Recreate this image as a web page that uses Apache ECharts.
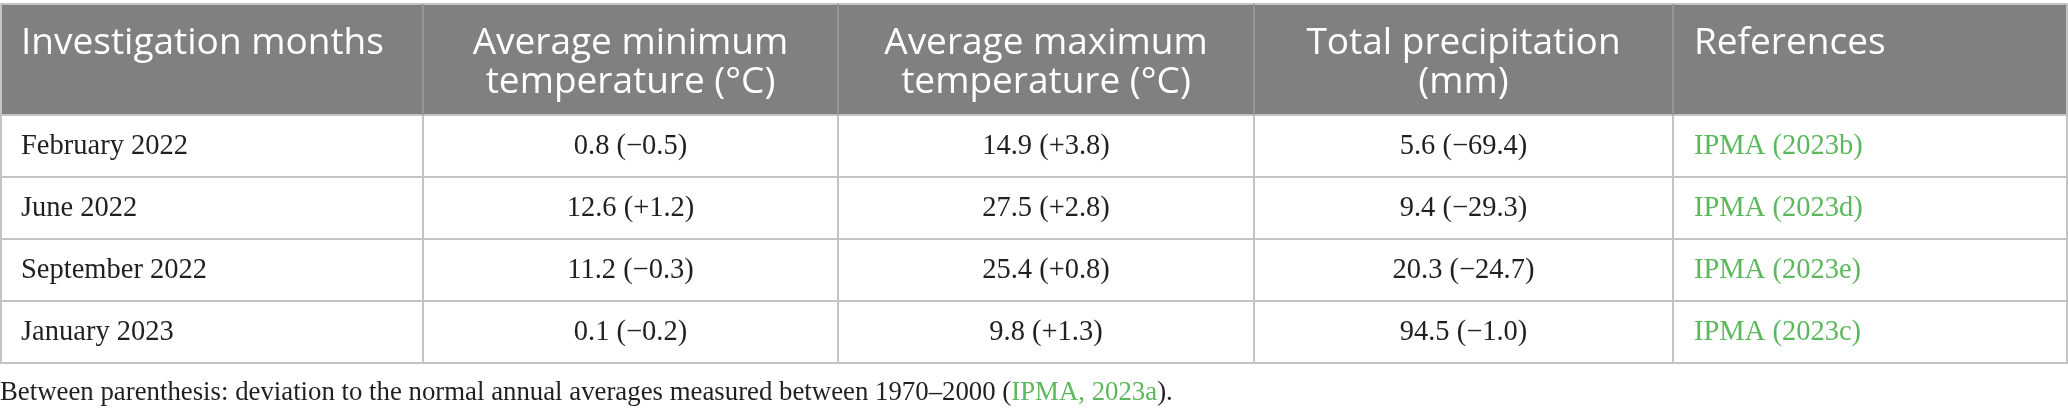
<!DOCTYPE html>
<html><head><meta charset="utf-8">
<script src="https://cdn.jsdelivr.net/npm/echarts@6/dist/echarts.min.js"></script>
<style>html,body{margin:0;padding:0;background:#fff}#c{width:2068px;height:415px}</style>
</head><body><div id="c"></div>
<script>
// ---- data ----
const headers = ['Investigation months', 'Average minimum\ntemperature (\u00B0C)', 'Average maximum\ntemperature (\u00B0C)', 'Total precipitation\n(mm)', 'References'];
const months = ['February 2022', 'June 2022', 'September 2022', 'January 2023'];
const minTemp = [0.8, 12.6, 11.2, 0.1];
const minDev = [-0.5, 1.2, -0.3, -0.2];
const maxTemp = [14.9, 27.5, 25.4, 9.8];
const maxDev = [3.8, 2.8, 0.8, 1.3];
const precip = [5.6, 9.4, 20.3, 94.5];
const precipDev = [-69.4, -29.3, -24.7, -1.0];
const references = ['IPMA (2023b)', 'IPMA (2023d)', 'IPMA (2023e)', 'IPMA (2023c)'];
const footText = 'Between parenthesis: deviation to the normal annual averages measured between 1970\u20132000 (';
const footRef = 'IPMA, 2023a';
const footEnd = ').';

// ---- layout (table units) ----
const colEdges = [0, 423, 838, 1254, 1673, 2067];
const rowEdges = [4, 115, 177, 239, 301, 363];
const colAlign = ['left', 'center', 'center', 'center', 'left'];

function fmt(v, d) { return v.toFixed(1) + ' (' + (d < 0 ? '\u2212' : '+') + Math.abs(d).toFixed(1) + ')'; }
const bodyRows = months.map((m, i) => [m, fmt(minTemp[i], minDev[i]), fmt(maxTemp[i], maxDev[i]), fmt(precip[i], precipDev[i]), references[i]]);

const cells = [];
for (let r = 0; r <= months.length; r++) for (let c = 0; c < headers.length; c++) cells.push([c, r]);
const rules = [];
rowEdges.forEach((_, i) => rules.push([0, i]));
colEdges.forEach((_, i) => rules.push([1, i]));

const HEAD_FONT = '37px "Open Sans"';
const BODY_FONT = '28.5px "Liberation Serif"';
const FOOT_FONT = '26.8px "Liberation Serif"';
const GREEN = '#5cb85c';
const INK = '#231f20';

const chart = echarts.init(document.getElementById('c'), null, { renderer: 'canvas' });
chart.setOption({
  animation: false,
  grid: { left: 0, top: 0, right: 0, bottom: 0 },
  xAxis: { type: 'value', min: 0, max: 2068, show: false },
  yAxis: { type: 'value', min: 0, max: 415, inverse: true, show: false },
  series: [{
    type: 'custom', silent: true, z: 1,
    data: cells,
    renderItem: function (params, api) {
      const c = api.value(0), r = api.value(1);
      const p0 = api.coord([colEdges[c], rowEdges[r]]);
      const p1 = api.coord([colEdges[c + 1], rowEdges[r + 1]]);
      const x = p0[0], y = p0[1], w = p1[0] - p0[0], h = p1[1] - p0[1];
      const head = r === 0;
      const txt = head ? headers[c] : bodyRows[r - 1][c];
      const left = colAlign[c] === 'left';
      const tx = left ? x + 21 : x + w / 2;
      return {
        type: 'group',
        children: [
          { type: 'rect', shape: { x: x, y: y, width: w, height: h }, style: { fill: head ? '#808080' : '#ffffff' } },
          head ? { type: 'text', style: { text: txt, x: tx, y: y + 20, font: HEAD_FONT, fill: '#ffffff', align: left ? 'left' : 'center', verticalAlign: 'top', lineHeight: 39 } }
               : { type: 'text', style: { text: txt, x: tx, y: y + h / 2 + 1, font: BODY_FONT, fill: c === 4 ? GREEN : INK, align: left ? 'left' : 'center', verticalAlign: 'middle' } }
        ]
      };
    }
  }, {
    type: 'custom', silent: true, z: 3,
    data: rules,
    renderItem: function (params, api) {
      const kind = api.value(0), i = api.value(1);
      if (kind === 0) {
        const a = api.coord([colEdges[0], rowEdges[i]]);
        const b = api.coord([colEdges[colEdges.length - 1] + 1, rowEdges[i]]);
        return { type: 'line', shape: { x1: a[0], y1: a[1], x2: b[0], y2: b[1] }, style: { stroke: '#c4c4c4', lineWidth: 2 } };
      }
      const xEdge = colEdges[i] + (i === 0 ? 1 : 0);
      const t = api.coord([xEdge, rowEdges[0]]);
      const m = api.coord([xEdge, rowEdges[1]]);
      const e = api.coord([xEdge, rowEdges[rowEdges.length - 1]]);
      return { type: 'group', children: [
        { type: 'line', shape: { x1: t[0], y1: t[1], x2: m[0], y2: m[1] }, style: { stroke: (i === 0 || i === colEdges.length - 1) ? '#c4c4c4' : '#969696', lineWidth: 2 } },
        { type: 'line', shape: { x1: m[0], y1: m[1], x2: e[0], y2: e[1] }, style: { stroke: '#c4c4c4', lineWidth: 2 } }
      ] };
    }
  }],
  graphic: [{
    type: 'text', left: 0, top: 379, silent: true,
    style: {
      text: '{a|' + footText + '}{g|' + footRef + '}{a|' + footEnd + '}',
      rich: {
        a: { font: FOOT_FONT, fill: INK, lineHeight: 30 },
        g: { font: FOOT_FONT, fill: GREEN, lineHeight: 30 }
      }
    }
  }]
});
</script></body></html>
